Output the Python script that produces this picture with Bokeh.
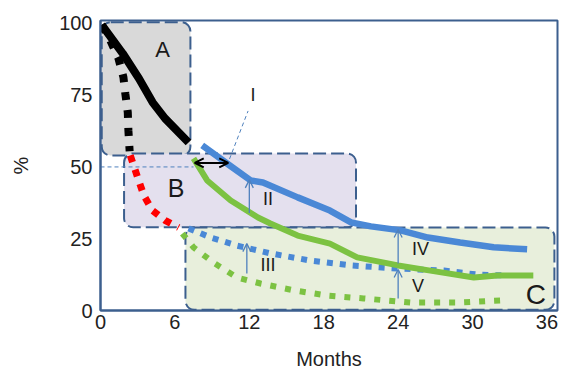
from bokeh.plotting import figure
from bokeh.models import BoxAnnotation, Arrow, OpenHead, Range1d, FixedTicker, Label
from bokeh.embed import file_html
from bokeh.resources import INLINE

# ---- data (months, %) ----
black_solid_x = [0.1, 1.8, 3.1, 4.2, 5.2, 7.1]
black_solid_y = [99.5, 89.5, 80.8, 72.5, 66.9, 58.5]
black_dot_x = [0.1, 0.8, 1.45, 1.85, 2.0, 2.2, 2.25, 2.35]
black_dot_y = [99.5, 94.0, 87.8, 81.2, 75.6, 69.0, 62.7, 55.5]
red_dot_x = [2.4, 3.0, 3.5, 4.2, 5.2, 6.3]
red_dot_y = [54.0, 46.3, 40.0, 34.8, 31.4, 28.9]
blue_solid_x = [8.2, 10.2, 12.1, 13.1, 15.9, 18.5, 20.2, 21.8, 24.2, 26.4, 29.0, 31.7, 34.4]
blue_solid_y = [57.5, 51.2, 45.3, 44.6, 39.4, 34.8, 30.7, 29.3, 27.9, 25.4, 23.7, 22.0, 21.3]
green_solid_x = [7.5, 8.6, 10.5, 12.7, 13.7, 15.9, 18.5, 20.7, 24.0, 26.6, 30.1, 32.0, 34.9]
green_solid_y = [53.0, 45.3, 38.3, 32.4, 30.3, 26.1, 23.3, 18.5, 15.7, 13.9, 11.5, 12.2, 12.2]
blue_dot_x = [7.1, 8.9, 11.0, 13.7, 16.9, 20.2, 24.0, 27.7, 30.4, 32.7]
blue_dot_y = [28.6, 25.4, 22.6, 19.9, 17.4, 15.7, 14.6, 13.9, 12.5, 12.2]
green_dot_x = [6.6, 7.5, 9.1, 11.0, 12.9, 15.6, 18.3, 21.2, 25.0, 29.0, 32.3]
green_dot_y = [26.8, 22.0, 16.7, 11.5, 9.4, 7.0, 5.2, 4.2, 2.8, 2.8, 3.5]

x_ticks = [0, 6, 12, 18, 24, 30, 36]
y_ticks = [0, 25, 50, 75, 100]

# zones: (left, right, top, bottom)
zone_names = ["A", "B", "C"]
zone_bounds = [(0.1, 7.25, 100.4, 54.0), (1.9, 20.6, 54.7, 29.0), (6.85, 36.6, 28.9, 0.3)]
zone_fill = ["#d9d9d9", "#e4e0ee", "#e8efdc"]
zone_label_pos = [(5.0, 90.9), (6.1, 42.5), (35.1, 5.4)]
zone_label_size = ["22px", "25px", "28px"]

numerals = ["I", "II", "III", "IV", "V"]
numeral_pos = [(12.3, 74.9), (13.5, 39.0), (13.5, 15.7), (25.8, 21.5), (25.6, 8.7)]
# vertical arrows (x, y_start, y_end)
diff_arrows = [(12.0, 34.0, 45.5), (11.8, 12.9, 23.3), (24.0, 16.4, 28.2), (24.0, 4.2, 14.3)]

NAVY = "#3c5f8e"
BLUE = "#4a88d6"
GREEN = "#7cc242"
ARROW_BLUE = "#4f81bd"

p = figure(width=562, height=373, output_backend="svg", toolbar_location=None,
           x_range=Range1d(0, 36.85), y_range=Range1d(0, 101),
           min_border_left=100, min_border_top=20, min_border_right=5, min_border_bottom=63)
p.grid.visible = False
p.outline_line_color = NAVY
p.outline_line_width = 2
p.outline_line_alpha = 1.0
p.background_fill_color = "white"

for ax in (p.xaxis[0], p.yaxis[0]):
    ax.axis_line_color = NAVY
    ax.axis_line_width = 2
    ax.major_tick_line_color = None
    ax.minor_tick_line_color = None
    ax.major_label_text_font = "Liberation Sans"
    ax.major_label_text_font_size = "20px"
    ax.major_label_text_color = "#222222"
    ax.axis_label_text_font = "Liberation Sans"
    ax.axis_label_text_font_size = "20px"
    ax.axis_label_text_font_style = "normal"
    ax.axis_label_text_color = "#222222"
p.xaxis.ticker = FixedTicker(ticks=x_ticks)
p.yaxis.ticker = FixedTicker(ticks=y_ticks)
p.xaxis.major_tick_in = 0
p.xaxis.major_tick_out = 0
p.yaxis.major_tick_in = 0
p.yaxis.major_tick_out = 0
p.xaxis.major_label_standoff = 4
p.yaxis.major_label_standoff = 8
p.xaxis.axis_label = "Months"
p.yaxis.axis_label = "%"
p.xaxis.axis_label_standoff = 16
p.yaxis.axis_label_standoff = 24

for (l, r, t, b), fc in zip(zone_bounds, zone_fill):
    p.add_layout(BoxAnnotation(left=l, right=r, top=t, bottom=b, fill_color=fc, fill_alpha=1.0,
                               line_color=NAVY, line_alpha=1.0, line_width=2, line_dash="13 5",
                               border_radius=9, level="underlay"))

# dashed guide lines
p.line([0, 7.5], [50, 50], line_color=ARROW_BLUE, line_width=1, line_dash="4 3")
p.line([10.2, 11.9], [50.5, 69.5], line_color=ARROW_BLUE, line_width=1, line_dash="4 3")

# curves
p.line(black_dot_x, black_dot_y, line_color="black", line_width=8, line_dash="8 10")
p.line(red_dot_x, red_dot_y, line_color="#ff0000", line_width=7, line_dash="7 8")
p.line(green_dot_x, green_dot_y, line_color=GREEN, line_width=6, line_dash="6 9")
p.line(blue_dot_x, blue_dot_y, line_color=BLUE, line_width=6, line_dash="6 7")
p.line(green_solid_x, green_solid_y, line_color=GREEN, line_width=6)
p.line(blue_solid_x, blue_solid_y, line_color=BLUE, line_width=6.5)
p.line(black_solid_x, black_solid_y, line_color="black", line_width=8)

# arrows
p.add_layout(Arrow(x_start=7.6, y_start=51.4, x_end=10.3, y_end=51.4, line_color="black", line_width=2,
                   start=OpenHead(size=9, line_color="black", line_width=2),
                   end=OpenHead(size=9, line_color="black", line_width=2)))
for x, y0, y1 in diff_arrows:
    p.add_layout(Arrow(x_start=x, y_start=y0, x_end=x, y_end=y1, line_color=ARROW_BLUE, line_width=1.3,
                       end=OpenHead(size=8, line_color=ARROW_BLUE, line_width=1.3)))

for name, (x, y), fs in zip(zone_names, zone_label_pos, zone_label_size):
    p.add_layout(Label(x=x, y=y, text=name, text_font="Liberation Sans", text_font_size=fs,
                       text_color="#1a1a1a", text_align="center", text_baseline="middle"))
for name, (x, y) in zip(numerals, numeral_pos):
    p.add_layout(Label(x=x, y=y, text=name, text_font="Liberation Sans", text_font_size="18px",
                       text_color="#1a1a1a", text_align="center", text_baseline="middle"))

open("out.html", "w").write(file_html(p, INLINE))
